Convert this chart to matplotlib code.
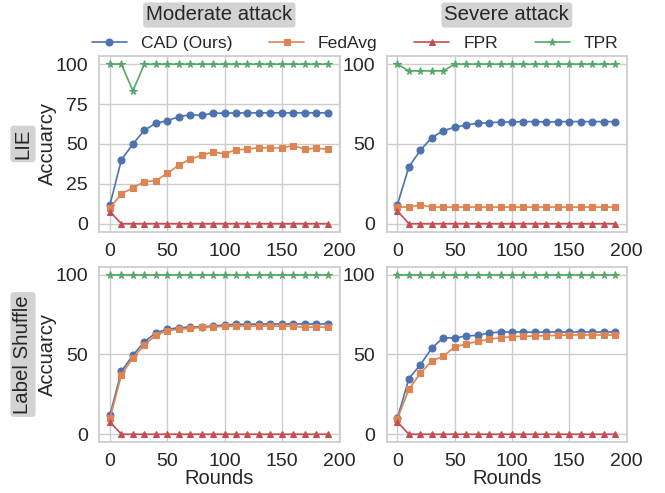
import matplotlib
matplotlib.use("Agg")
import matplotlib.pyplot as plt
import seaborn as sns

sns.set_theme(style="whitegrid")
plt.rcParams['font.family'] = ['Liberation Sans', 'DejaVu Sans']

rounds = list(range(0, 200, 10))

col_titles = ["Moderate attack", "Severe attack"]
row_titles = ["LIE", "Label Shuffle"]
series_names = ["CAD (Ours)", "FedAvg", "FPR", "TPR"]

# LIE, moderate
lie_mod_cad = [12, 40, 50, 58.5, 63, 64.5, 67, 68.3, 68, 69.2, 69.4, 69.4, 69.4, 69.5, 69.5, 69.5, 69.4, 69.5, 69.5, 69.5]
lie_mod_fedavg = [10, 18.7, 22.5, 26.3, 27, 31.5, 36.7, 40.4, 42.9, 45, 43.8, 46.3, 46.7, 47.7, 47.5, 47.5, 49, 46.7, 47.3, 46.7]
lie_mod_fpr = [7.5] + [0] * 19
lie_mod_tpr = [100, 100, 83.3] + [100] * 17

# LIE, severe
lie_sev_cad = [12, 35.6, 46, 54, 58.3, 60.4, 61.9, 62.9, 63.3, 63.7, 63.7, 64, 64, 63.7, 64, 64, 64, 64, 64, 64]
lie_sev_fedavg = [10.4, 10.4, 11.7] + [10.4] * 17
lie_sev_fpr = [8] + [0] * 19
lie_sev_tpr = [100, 95.8, 95.8, 95.8, 95.8] + [100] * 15

# Label Shuffle, moderate
ls_mod_cad = [12.1, 39.5, 49.5, 58, 63.5, 65.8, 66.8, 67.2, 67.4, 67.8, 68.5, 68.9, 68.9, 69.1, 69.1, 69.1, 69.1, 69.1, 69.1, 69.1]
ls_mod_fedavg = [10, 37.4, 47.8, 56, 62, 65, 65.8, 66.4, 67, 67.4, 67.6, 67.8, 67.8, 67.8, 67.8, 67.8, 67.6, 67, 67.2, 67.2]
ls_mod_fpr = [7.7] + [0] * 19
ls_mod_tpr = [100] * 20

# Label Shuffle, severe
ls_sev_cad = [10, 34.9, 43.6, 53.9, 60.5, 60.3, 61.6, 62, 63.5, 64.1, 64.1, 64.1, 63.9, 64.1, 64.1, 64.1, 64.1, 64.1, 64.1, 64.1]
ls_sev_fedavg = [9.6, 28.2, 38.2, 45.9, 48.9, 54.7, 56.6, 58.2, 59.5, 60.5, 61.2, 61.4, 61.6, 61.8, 62, 62.2, 62.2, 62.2, 62.2, 62.2]
ls_sev_fpr = [7.7] + [0] * 19
ls_sev_tpr = [100] * 20

panels = [
    [(lie_mod_cad, lie_mod_fedavg, lie_mod_fpr, lie_mod_tpr),
     (lie_sev_cad, lie_sev_fedavg, lie_sev_fpr, lie_sev_tpr)],
    [(ls_mod_cad, ls_mod_fedavg, ls_mod_fpr, ls_mod_tpr),
     (ls_sev_cad, ls_sev_fedavg, ls_sev_fpr, ls_sev_tpr)],
]
yticks = [[[0, 25, 50, 75, 100], [0, 50, 100]], [[0, 50, 100], [0, 50, 100]]]
xticks = [0, 50, 100, 150, 200]

pal = sns.color_palette("deep")
styles = [dict(color=pal[0], marker='o', markersize=5),
          dict(color=pal[1], marker='s', markersize=5),
          dict(color=pal[3], marker='^', markersize=5),
          dict(color=pal[2], marker='*', markersize=5.5)]

fig, axes = plt.subplots(2, 2, figsize=(6.65, 4.93), dpi=100)
fig.subplots_adjust(left=0.149, right=0.943, top=0.886, bottom=0.103, wspace=0.195, hspace=0.2)

text_c = '#262626'
for r in range(2):
    for c in range(2):
        ax = axes[r][c]
        for k, ys in enumerate(panels[r][c]):
            ax.plot(rounds, ys, label=series_names[k], lw=1.2, mew=0.8, **styles[k])
        ax.set_xlim(-9.5, 200.5)
        ax.set_ylim(-5, 105)
        ax.set_xticks(xticks)
        ax.set_yticks(yticks[r][c])
        ax.tick_params(labelsize=14, colors=text_c, pad=2)
        for s in ax.spines.values():
            s.set_color('#cccccc')
        if r == 1:
            ax.set_xlabel("Rounds", fontsize=14.5, color=text_c, labelpad=-1)
        if c == 0:
            ax.set_ylabel("Accuarcy", fontsize=14.5, color=text_c)
            ax.yaxis.set_label_coords(-0.175, 0.5)

for c in range(2):
    pos = axes[0][c].get_position()
    fig.text((pos.x0 + pos.x1) / 2, 1 - 15 / 493, col_titles[c], fontsize=14.7, color=text_c,
             ha='center', va='center',
             bbox=dict(facecolor='#d3d3d3', edgecolor='none', boxstyle='round,pad=0.15'))
for r in range(2):
    pos = axes[r][0].get_position()
    fig.text(23 / 665, (pos.y0 + pos.y1) / 2, row_titles[r], fontsize=14.7, color=text_c,
             ha='center', va='center', rotation=90,
             bbox=dict(facecolor='#d3d3d3', edgecolor='none', boxstyle='round,pad=0.15'))

handles, labels = axes[0][0].get_legend_handles_labels()
fig.legend(handles, labels, loc='center', bbox_to_anchor=(0.534, 1 - 43 / 493), ncol=4,
           frameon=False, fontsize=12.6, handletextpad=0.8, columnspacing=2.1, borderaxespad=0)

fig.savefig("out.png", dpi=100)
